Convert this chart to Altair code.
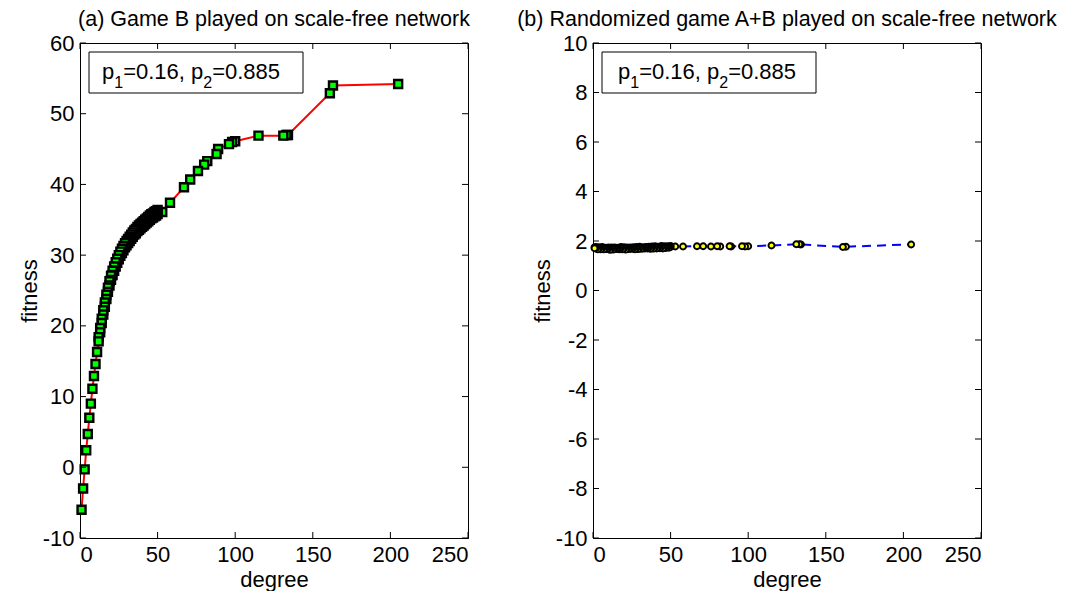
import altair as alt
import pandas as pd

# ---------------- data ----------------
degree = list(range(1, 51)) + [53, 58, 67, 71, 76, 80, 82, 88, 89, 96, 98, 100,
                               115, 131, 133, 134, 161, 163, 205]

fitness_b = [-6.0, -3.0, -0.3, 2.4, 4.7, 7.0, 9.0, 11.1, 12.9, 14.6,
             16.3, 17.8, 19.1, 20.4, 21.6, 22.7, 23.8, 24.8, 25.7, 26.5,
             27.2, 27.8, 28.4, 28.9, 29.4, 29.9, 30.3, 30.7, 31.1, 31.4,
             31.7, 32.0, 32.3, 32.6, 32.9, 33.1, 33.4, 33.6, 33.8, 34.0,
             34.2, 34.4, 34.6, 34.8, 35.0, 35.2, 35.3, 35.5, 35.6, 35.8,
             36.1, 37.4, 39.6, 40.7, 41.9, 42.8, 43.3, 44.3, 45.0, 45.7,
             46.0, 46.1, 46.9, 46.9, 47.0, 47.0, 52.9, 54.0, 54.2]

fitness_ab = [1.75, 1.72, 1.70, 1.71, 1.70, 1.72, 1.70, 1.69, 1.71, 1.70,
              1.68, 1.70, 1.69, 1.70, 1.71, 1.69, 1.70, 1.72, 1.70, 1.71,
              1.69, 1.70, 1.71, 1.70, 1.72, 1.71, 1.70, 1.72, 1.71, 1.73,
              1.72, 1.71, 1.73, 1.72, 1.74, 1.73, 1.72, 1.74, 1.73, 1.75,
              1.74, 1.73, 1.75, 1.76, 1.74, 1.75, 1.76, 1.75, 1.77, 1.76,
              1.78, 1.78, 1.79, 1.79, 1.78, 1.79, 1.78, 1.79, 1.78, 1.79,
              1.78, 1.79, 1.82, 1.87, 1.87, 1.86, 1.76, 1.77, 1.86]

# further nodes in the dense low-degree band (upper edge of the black band)
degree_extra_b = list(range(12, 51))
fitness_extra_b = [18.4, 19.7, 21.0, 22.2, 23.3, 24.4, 25.4, 26.3, 27.1, 27.8,
                   28.4, 29.0, 29.5, 30.0, 30.5, 30.9, 31.3, 31.7, 32.0, 32.3,
                   32.6, 32.9, 33.2, 33.5, 33.7, 34.0, 34.2, 34.4, 34.6, 34.8,
                   35.0, 35.2, 35.4, 35.6, 35.8, 35.9, 36.1, 36.2, 36.4]

degree_extra_ab = list(range(1, 51))
fitness_extra_ab = [1.71, 1.76, 1.66, 1.75, 1.66, 1.76, 1.66, 1.73, 1.67, 1.74,
                    1.64, 1.74, 1.65, 1.74, 1.67, 1.73, 1.66, 1.76, 1.66, 1.75,
                    1.65, 1.74, 1.67, 1.74, 1.68, 1.75, 1.66, 1.76, 1.67, 1.77,
                    1.68, 1.75, 1.69, 1.76, 1.70, 1.77, 1.68, 1.78, 1.69, 1.79,
                    1.70, 1.77, 1.71, 1.80, 1.70, 1.79, 1.72, 1.79, 1.73, 1.80]

x_ticks = [0, 50, 100, 150, 200, 250]
y_ticks_a = [-10, 0, 10, 20, 30, 40, 50, 60]
y_ticks_b = [-10, -8, -6, -4, -2, 0, 2, 4, 6, 8, 10]

title_a = "(a) Game B played on scale-free network"
title_b = "(b) Randomized game A+B played on scale-free network"

W, H = 388, 495
FONT = "Liberation Sans"
FS = 22
TK = 6
LABEL_EXPR = "'' + datum.value"

df_a = pd.DataFrame({"degree": degree, "fitness": fitness_b})
df_b = pd.DataFrame({"degree": degree, "fitness": fitness_ab})
# markers are painted from the highest degree down, so low-degree ones sit on top
pts_a = pd.concat([df_a, pd.DataFrame({"degree": degree_extra_b, "fitness": fitness_extra_b})]) \
    .sort_values(["degree", "fitness"], ascending=[False, False]).reset_index(drop=True)
pts_b = pd.concat([df_b, pd.DataFrame({"degree": degree_extra_ab, "fitness": fitness_extra_ab})]) \
    .sort_values(["degree", "fitness"], ascending=[False, False]).reset_index(drop=True)
pts_a["n"] = range(len(pts_a))
pts_b["n"] = range(len(pts_b))


def panel(df, pdf, ydomain, yticks, title, line_color, dash, shape, fill, size, sw, text_x):
    xs = alt.Scale(domain=[0, 250], nice=False, zero=False)
    ys = alt.Scale(domain=ydomain, nice=False, zero=False)
    xax = alt.Axis(values=x_ticks, title="degree", labelExpr=LABEL_EXPR)
    yax = alt.Axis(values=yticks, title="fitness", labelExpr=LABEL_EXPR)
    line_kw = dict(color=line_color, strokeWidth=2)
    if dash:
        line_kw["strokeDash"] = dash
    line = alt.Chart(df).mark_line(**line_kw).encode(
        x=alt.X("degree:Q", scale=xs, axis=xax),
        y=alt.Y("fitness:Q", scale=ys, axis=yax),
        order="degree:Q",
    )
    pts = alt.Chart(pdf).mark_point(shape=shape, filled=True, fill=fill, stroke="black",
                                    strokeWidth=sw, size=size, opacity=1, fillOpacity=1).encode(
        x=alt.X("degree:Q", scale=xs, axis=xax),
        y=alt.Y("fitness:Q", scale=ys, axis=yax),
        order="n:Q",
    )
    xt = pd.DataFrame({"degree": x_ticks})
    yt = pd.DataFrame({"fitness": yticks})
    rule_kw = dict(color="black", strokeWidth=1)
    tb = alt.Chart(xt).mark_rule(**rule_kw).encode(
        x=alt.X("degree:Q", scale=xs, axis=xax), y=alt.value(H), y2=alt.value(H - TK))
    tt = alt.Chart(xt).mark_rule(**rule_kw).encode(
        x=alt.X("degree:Q", scale=xs, axis=xax), y=alt.value(0), y2=alt.value(TK))
    tl = alt.Chart(yt).mark_rule(**rule_kw).encode(
        y=alt.Y("fitness:Q", scale=ys, axis=yax), x=alt.value(0), x2=alt.value(TK))
    tr = alt.Chart(yt).mark_rule(**rule_kw).encode(
        y=alt.Y("fitness:Q", scale=ys, axis=yax), x=alt.value(W), x2=alt.value(W - TK))

    one = pd.DataFrame({"k": [0]})
    box = alt.Chart(one).mark_rect(fill="white", stroke="black", strokeWidth=1).encode(
        x=alt.value(9), x2=alt.value(223), y=alt.value(9), y2=alt.value(50))
    seg = []
    x0 = text_x
    parts = [("p", FS, 0), ("1", 16, 9), ("=0.16, p", FS, 0), ("2", 16, 9), ("=0.885", FS, 0)]
    widths = {"p": 0.556, "1": 0.556, "2": 0.556, "=0.16, p": 3.642, "=0.885": 3.086}
    for txt, fs, dy in parts:
        seg.append(alt.Chart(one).mark_text(align="left", baseline="alphabetic", font=FONT,
                                            fontSize=fs, color="black").encode(
            x=alt.value(x0), y=alt.value(36 + dy), text=alt.value(txt)))
        x0 += widths[txt] * fs
    return alt.layer(line, pts, tb, tt, tl, tr, box, *seg).properties(
        width=W, height=H,
        title=alt.Title(title, fontSize=21.5, fontWeight="normal", font=FONT,
                        color="black", anchor="middle", offset=2),
    )


left = panel(df_a, pts_a, [-10, 60], y_ticks_a, title_a, "#ff0000", None, "square",
             "#00ff00", 64, 2.4, 22)
right = panel(df_b, pts_b, [-10, 10], y_ticks_b, title_b, "#0000ff", [9, 6], "circle",
              "#ffff00", 36, 1.9, 25)

chart = alt.hconcat(left, right, spacing=45).properties(
    padding={"left": 17, "top": 8, "right": 5, "bottom": 0},
    background="white",
).configure_view(stroke="black", strokeWidth=1).configure_axis(
    grid=False, domainColor="black", domainWidth=1, tickSize=0,
    labelFont=FONT, labelFontSize=FS, labelColor="black", labelPadding=6,
    titleFont=FONT, titleFontSize=FS, titleFontWeight="normal", titleColor="black",
    titlePadding=4,
).configure_axisY(titlePadding=1)

chart.save("out.html", embed_options={"renderer": "svg", "actions": False})
